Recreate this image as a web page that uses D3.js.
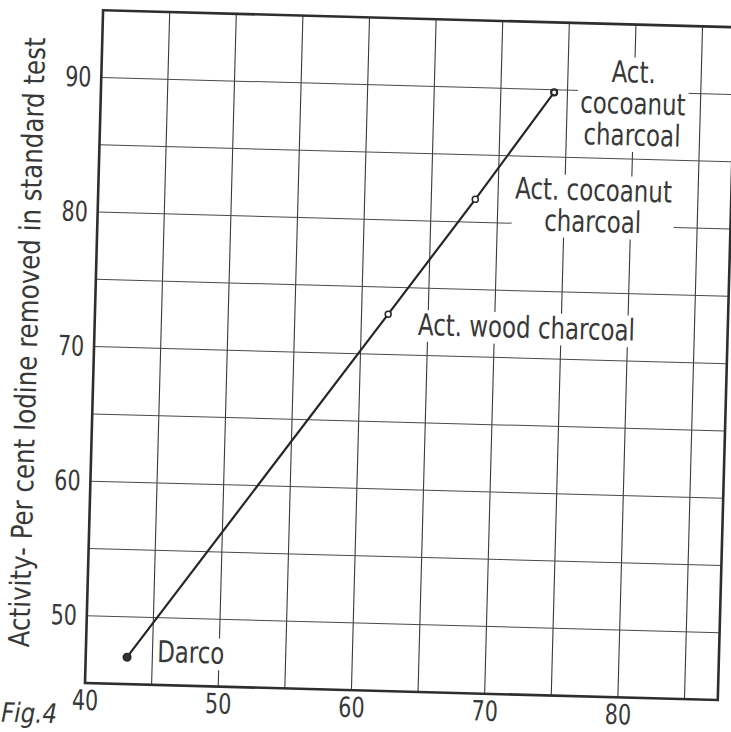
<!DOCTYPE html>
<html>
<head>
<meta charset="utf-8">
<script src="https://cdn.jsdelivr.net/npm/d3@7"></script>
<style>
  body { margin: 0; background: #fff; }
  svg { display: block; }
  text { font-family: "DejaVu Sans Condensed", "DejaVu Sans", sans-serif; fill: #383838; }
</style>
</head>
<body>
<div class="main"></div>
<script>
// figure data
var xTickLabels = [40, 50, 60, 70, 80];
var yTickLabels = [50, 60, 70, 80, 90];
var xGridLines = [45, 50, 55, 60, 65, 70, 75, 80, 85];
var yGridLines = [50, 55, 60, 65, 70, 75, 80, 85, 90];

var carbonNames = ["Darco", "Act. wood charcoal", "Act. cocoanut charcoal", "Act. cocoanut charcoal"];
var decolorizing = [43.1, 62.0, 68.3, 74.0];   // x values
var activity = [47.0, 73.0, 81.7, 89.8];       // y values
var yTitle = "Activity- Per cent Iodine removed in standard test";
var figLabel = "Fig.4";

// canvas config
var W = 731, H = 732;
var margin = {left: 85, top: 10};
var plotW = 633, plotH = 673;
var tilt = 1.54; // the scanned page is slightly turned
var narrow = 0.85; // print lettering is narrower than the fonts we have

var svg = d3.select(".main").append("svg")
  .attr("width", W)
  .attr("height", H);

var g = svg.append("g")
  .attr("transform", "rotate(" + tilt + "," + margin.left + "," + (margin.top + plotH) + ")");

var xScale = d3.scaleLinear().domain([40, 87.5]).range([margin.left, margin.left + plotW]);
var yScale = d3.scaleLinear().domain([45, 95]).range([margin.top + plotH, margin.top]);

//grid
g.append("g").attr("class", "grid-x")
  .selectAll("line").data(xGridLines).enter().append("line")
  .attr("x1", function(d) { return xScale(d); })
  .attr("x2", function(d) { return xScale(d); })
  .attr("y1", yScale(45)).attr("y2", yScale(95))
  .attr("stroke", "#3a3a3a").attr("stroke-width", 1.1);

g.append("g").attr("class", "grid-y")
  .selectAll("line").data(yGridLines).enter().append("line")
  .attr("y1", function(d) { return yScale(d); })
  .attr("y2", function(d) { return yScale(d); })
  .attr("x1", xScale(40)).attr("x2", xScale(87.5))
  .attr("stroke", "#4a4a4a").attr("stroke-width", 1);

//labels for the points (white boxes break the grid like in the print)
var labelLines = [["Darco"], ["Act. wood charcoal"], ["Act. cocoanut", "charcoal"], ["Act.", "cocoanut", "charcoal"]];
var labelPlace = [
  {dx: 30, dy: 4, anchor: "start"},
  {dx: 30, dy: 20, anchor: "start"},
  {dx: 118, dy: -2, anchor: "middle"},
  {dx: 79, dy: -12, anchor: "middle"}
];

var labels = g.append("g").attr("class", "point-labels");
carbonNames.forEach(function(name, i) {
  var p = labelPlace[i];
  var lg = labels.append("g")
    .attr("transform", "translate(" + (xScale(decolorizing[i]) + p.dx) + "," + (yScale(activity[i]) + p.dy) + ") scale(" + narrow + ",1)");
  var t = lg.append("text")
    .attr("text-anchor", p.anchor)
    .style("font-size", "30px")
    .style("font-weight", 300);
  labelLines[i].forEach(function(line, j) {
    t.append("tspan")
      .attr("x", 0)
      .attr("dy", j == 0 ? 0 : 31.5)
      .text(line);
  });
  var bb = t.node().getBBox();
  lg.insert("rect", "text")
    .attr("x", bb.x - 3).attr("y", bb.y + 3)
    .attr("width", bb.width + 6).attr("height", bb.height - 4)
    .attr("fill", "#fff");
});

//frame
g.append("rect")
  .attr("x", margin.left).attr("y", margin.top)
  .attr("width", plotW).attr("height", plotH)
  .attr("fill", "none").attr("stroke", "#2e2e2e").attr("stroke-width", 2.6);

//axes (tick labels only)
var xAxis = d3.axisBottom(xScale).tickValues(xTickLabels).tickSize(0).tickPadding(7);
var yAxis = d3.axisLeft(yScale).tickValues(yTickLabels).tickSize(0).tickPadding(12);

var gx = g.append("g").attr("class", "x-axis")
  .attr("transform", "translate(0," + (margin.top + plotH) + ")")
  .call(xAxis);
var gy = g.append("g").attr("class", "y-axis")
  .attr("transform", "translate(" + margin.left + ",0)")
  .call(yAxis);
g.selectAll(".domain").remove();
g.selectAll(".tick text")
  .attr("fill", "#383838")
  .attr("transform", "scale(0.82,1)")
  .style("font-family", "'DejaVu Sans Condensed', 'DejaVu Sans', sans-serif")
  .style("font-weight", 300)
  .style("font-size", "28px");

//y title
g.append("text")
  .attr("class", "y-axis-label")
  .attr("transform", "translate(" + 28 + "," + 344 + ") rotate(-90)")
  .attr("text-anchor", "middle")
  .attr("textLength", 610)
  .attr("lengthAdjust", "spacingAndGlyphs")
  .style("font-size", "29px")
  .style("font-weight", 300)
  .text(yTitle);

//fig number
g.append("text")
  .attr("x", 2).attr("y", 724)
  .style("font-size", "27px")
  .style("font-style", "italic")
  .style("font-weight", 300)
  .attr("textLength", 56)
  .attr("lengthAdjust", "spacingAndGlyphs")
  .text(figLabel);

//the line and points
var pts = decolorizing.map(function(d, i) { return [xScale(d), yScale(activity[i])]; });
var lineFunc = d3.line();
g.append("path")
  .attr("d", lineFunc(pts))
  .attr("fill", "none")
  .attr("stroke", "#262626")
  .attr("stroke-width", 2.2);

g.append("g").attr("class", "nodes")
  .selectAll("circle").data(pts).enter().append("circle")
  .attr("cx", function(d) { return d[0]; })
  .attr("cy", function(d) { return d[1]; })
  .attr("r", function(d, i) { return i == 0 ? 3.8 : 3; })
  .attr("fill", function(d, i) { return i == 0 ? "#333" : "#fff"; })
  .attr("stroke", "#262626")
  .attr("stroke-width", function(d, i) { return i == 3 ? 2.2 : 1.5; });
</script>
</body>
</html>
